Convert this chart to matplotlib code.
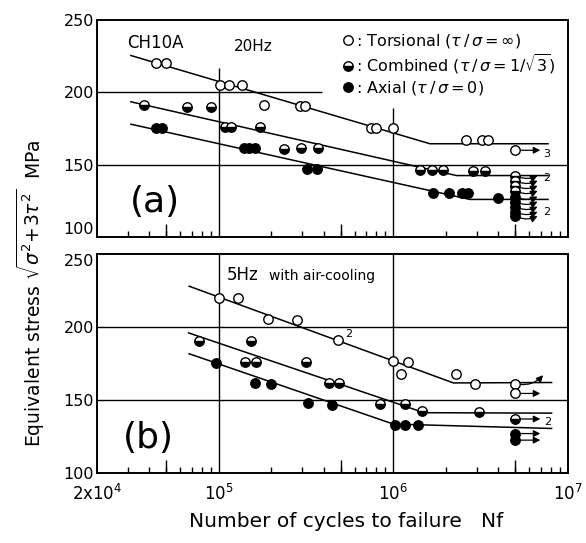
import numpy as np
import matplotlib.pyplot as plt

# panel (a)  CH10A, 20Hz
a_tor_n = [4.35e4, 5.0e4, 1.02e5, 1.14e5, 1.36e5, 1.81e5, 2.9e5, 3.1e5, 7.4e5, 8.0e5, 1.0e6, 2.6e6, 3.2e6, 3.5e6]
a_tor_s = [220, 220, 205, 205, 205, 191, 190.5, 190.5, 175.5, 175.5, 175.5, 167, 167, 167]
a_com_n = [3.72e4, 6.6e4, 8.95e4, 1.09e5, 1.18e5, 1.73e5, 2.35e5, 2.96e5, 3.7e5, 1.42e6, 1.66e6, 1.93e6, 2.86e6, 3.34e6]
a_com_s = [191, 190, 190, 176.4, 176.4, 176.3, 161.2, 161.3, 161.5, 146.6, 146.6, 146.6, 145.5, 145.5]
a_axi_n = [4.35e4, 4.74e4, 1.39e5, 1.48e5, 1.6e5, 3.2e5, 3.65e5, 1.69e6, 2.09e6, 2.49e6, 2.68e6, 3.98e6]
a_axi_s = [175.5, 175.5, 161.3, 161.3, 161.3, 146.7, 146.7, 130.7, 130.7, 130.7, 130.7, 126.8]

# runouts (not failed) at 5x10^6
runout_n = 5.0e6
a_tor_run = [160]
a_com_run = [142.5, 139, 135.5, 132]
a_axi_run = [128, 124.5, 121, 117.5, 114.5]

# S-N lines (start, knee, end)
a_tor_line_n = [3.13e4, 1.62e6, 7.7e6]
a_tor_line_s = [225.5, 164.5, 164.5]
a_com_line_n = [3.13e4, 2.3e6, 7.7e6]
a_com_line_s = [193.5, 142.5, 142.5]
a_axi_line_n = [3.13e4, 2.74e6, 7.7e6]
a_axi_line_s = [178, 126, 126]

# panel (b)  5Hz with air-cooling
b_tor_n = [1.0e5, 1.29e5, 1.91e5, 2.82e5, 4.81e5, 1.0e6, 1.22e6, 1.11e6, 2.3e6, 2.93e6]
b_tor_s = [219.8, 219.6, 205.3, 204.8, 191.1, 176.5, 176, 167.7, 168, 161.3]
b_com_n = [7.69e4, 1.52e5, 1.42e5, 1.63e5, 3.17e5, 4.26e5, 4.85e5, 8.36e5, 1.16e6, 1.45e6, 3.08e6]
b_com_s = [190.7, 190.2, 176.2, 175.8, 175.8, 161.7, 161.7, 147.2, 147.1, 142.4, 142]
b_axi_n = [9.57e4, 1.62e5, 1.98e5, 3.24e5, 4.45e5, 1.02e6, 1.16e6, 1.39e6]
b_axi_s = [175.4, 161.4, 160.9, 148.1, 146.8, 133.2, 133.2, 132.8]

b_tor_run = [161.3, 154.5]
b_com_run = [137]
b_axi_run = [127, 122.5]

b_tor_line_n = [6.75e4, 2.21e6, 8.07e6]
b_tor_line_s = [228, 161.7, 162]
b_com_line_n = [6.7e4, 1.5e6, 8.07e6]
b_com_line_s = [196, 141.3, 141]
b_axi_line_n = [6.75e4, 1.0e6, 8.07e6]
b_axi_line_s = [181.7, 133.5, 130.5]

xtick_vals = [2e4, 1e5, 1e6, 1e7]
xtick_labels = [r'2x10$^4$', r'10$^5$', r'10$^6$', r'10$^7$']
ytick_vals = [100, 150, 200, 250]

plt.rcParams['font.family'] = 'DejaVu Sans'

tor_style = dict(ls='none', marker='o', ms=6.8, mfc='white', mec='black', mew=1.0)
com_style = dict(ls='none', marker='o', ms=6.8, mfc='black', mfcalt='white',
                 fillstyle='bottom', mec='black', mew=1.0)
axi_style = dict(ls='none', marker='o', ms=6.8, mfc='black', mec='black', mew=1.0)


def setup_axes(ax, labels):
    ax.set_xscale('log')
    ax.set_xlim(2e4, 1e7)
    ax.set_ylim(100, 250)
    ax.set_yticks(ytick_vals)
    ax.set_yticklabels([str(v) for v in ytick_vals], fontsize=11.5)
    ax.set_xticks(xtick_vals)
    if labels:
        ax.set_xticklabels(xtick_labels, fontsize=12)
    else:
        ax.set_xticklabels([])
    minors = [m * 10.0 ** e for e in (4, 5, 6) for m in range(2, 10)]
    ax.set_xticks([v for v in minors if v > 2e4], minor=True)
    ax.tick_params(axis='x', which='minor', direction='in', length=4.5, width=1.0,
                   top=False, labelbottom=False)
    ax.tick_params(axis='x', which='major', length=0, pad=8)
    ax.tick_params(axis='y', which='major', length=0, pad=2)
    # longer inner ticks at 5x
    ax.vlines([5e4, 5e5, 5e6], 0, 0.06, transform=ax.get_xaxis_transform(), color='black', lw=1.0)
    for sp in ax.spines.values():
        sp.set_linewidth(1.4)


def runout_arrows(ax, vals, style, dx=16, dy=0, rad=0.0):
    for s in vals:
        ax.plot([runout_n], [s], **style, zorder=4)
        ax.annotate('', xy=(runout_n, s), xytext=(dx, dy), textcoords='offset points',
                    arrowprops=dict(arrowstyle='<|-', color='black', lw=0.9,
                                    shrinkA=0, shrinkB=3,
                                    connectionstyle='arc3,rad=%s' % rad))


fig = plt.figure(figsize=(5.86, 5.43), dpi=100)
axA = fig.add_axes([0.1655, 0.5635, 0.8035, 0.3995])
axB = fig.add_axes([0.1655, 0.129, 0.8035, 0.403])

# ---------------- panel (a)
setup_axes(axA, False)
axA.get_yticklabels()[0].set_va('bottom')
axA.vlines(1e5, 100, 217, color='black', lw=1.0)
axA.vlines(1e6, 100, 189, color='black', lw=1.0)
axA.hlines(200, 2e4, 3.9e5, color='black', lw=1.0)
axA.hlines(150, 2e4, 1e7, color='black', lw=1.0)

axA.plot(a_tor_line_n, a_tor_line_s, color='black', lw=1.1)
axA.plot(a_com_line_n, a_com_line_s, color='black', lw=1.1)
axA.plot(a_axi_line_n, a_axi_line_s, color='black', lw=1.1)
h_tor, = axA.plot(a_tor_n, a_tor_s, **tor_style, zorder=4)
h_com, = axA.plot(a_com_n, a_com_s, **com_style, zorder=4)
h_axi, = axA.plot(a_axi_n, a_axi_s, **axi_style, zorder=4)

runout_arrows(axA, a_tor_run, tor_style, dx=18)
runout_arrows(axA, a_com_run, com_style, dx=16, rad=-0.25)
runout_arrows(axA, a_axi_run, axi_style, dx=16, rad=-0.25)
axA.annotate('3', xy=(runout_n, a_tor_run[0]), xytext=(20, -3), textcoords='offset points',
             fontsize=8, va='center')
axA.annotate('2', xy=(runout_n, a_com_run[1]), xytext=(20, 2), textcoords='offset points',
             fontsize=8, va='center')
axA.annotate('2', xy=(runout_n, a_axi_run[3]), xytext=(20, 0), textcoords='offset points',
             fontsize=8, va='center')

axA.text(0.065, 0.895, 'CH10A', transform=axA.transAxes, fontsize=12, va='center')
axA.text(0.29, 0.88, '20Hz', transform=axA.transAxes, fontsize=11, va='center')
axA.text(0.07, 0.16, '(a)', transform=axA.transAxes, fontsize=26, va='center')

leg = axA.legend([h_tor, h_com, h_axi],
                 [r': Torsional ($\tau\,/\,\sigma=\infty$)',
                  r': Combined ($\tau\,/\,\sigma=1/\sqrt{3}$)',
                  r': Axial ($\tau\,/\,\sigma=0$)'],
                 loc='upper left', bbox_to_anchor=(0.51, 0.975), frameon=False,
                 fontsize=11.5, handlelength=0.6, handletextpad=0.2,
                 labelspacing=0.15, borderaxespad=0.0)

# ---------------- panel (b)
setup_axes(axB, True)
axB.get_yticklabels()[-1].set_va('top')
axB.vlines([1e5, 1e6], 100, 250, color='black', lw=1.0)
axB.hlines([150, 200], 2e4, 1e7, color='black', lw=1.0)

axB.plot(b_tor_line_n, b_tor_line_s, color='black', lw=1.1)
axB.plot(b_com_line_n, b_com_line_s, color='black', lw=1.1)
axB.plot(b_axi_line_n, b_axi_line_s, color='black', lw=1.1)
axB.plot(b_tor_n, b_tor_s, **tor_style, zorder=4)
axB.plot(b_com_n, b_com_s, **com_style, zorder=4)
axB.plot(b_axi_n, b_axi_s, **axi_style, zorder=4)

runout_arrows(axB, b_tor_run[:1], tor_style, dx=20, dy=6, rad=-0.3)
runout_arrows(axB, b_tor_run[1:], tor_style, dx=18)
runout_arrows(axB, b_com_run, com_style, dx=18)
runout_arrows(axB, b_axi_run, axi_style, dx=18)
axB.annotate('2', xy=(runout_n, b_com_run[0]), xytext=(21, -2), textcoords='offset points',
             fontsize=8, va='center')
axB.annotate('2', xy=(b_tor_n[4], b_tor_s[4]), xytext=(5, 4), textcoords='offset points',
             fontsize=8, va='center')

axB.text(0.275, 0.905, '5Hz', transform=axB.transAxes, fontsize=12, va='center')
axB.text(0.365, 0.9, 'with air-cooling', transform=axB.transAxes, fontsize=10, va='center')
axB.text(0.055, 0.16, '(b)', transform=axB.transAxes, fontsize=26, va='center')

fig.text(0.053, 0.46, r'Equivalent stress $\sqrt{\sigma^2\!+\!3\tau^2}$  MPa',
         rotation=90, fontsize=13.5, ha='center', va='center')
fig.text(0.59, 0.04, 'Number of cycles to failure   Nf', fontsize=14.5, ha='center', va='center')

fig.savefig('out.png', dpi=100)
